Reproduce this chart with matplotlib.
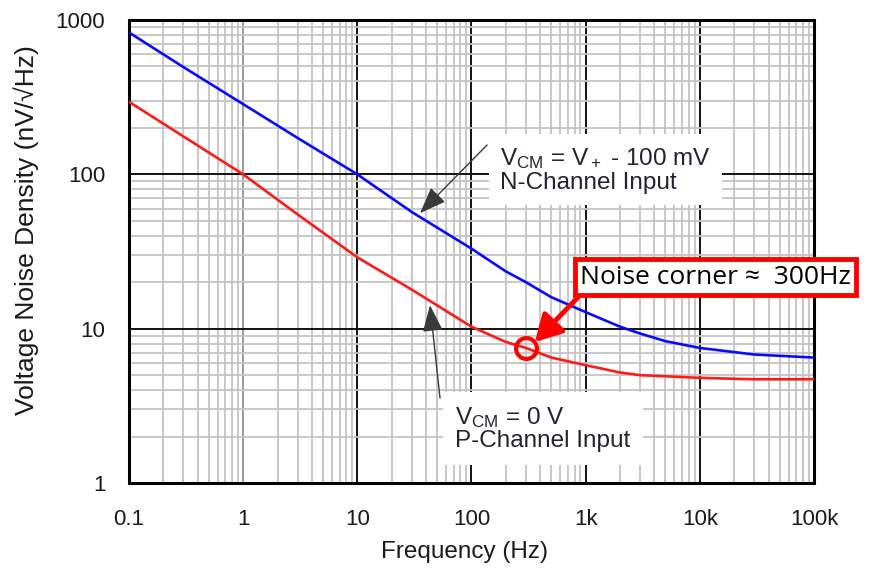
import matplotlib
matplotlib.use("Agg")
import matplotlib.pyplot as plt
from matplotlib.ticker import LogLocator, NullFormatter

# =========================
# DATA
# =========================
freq_n = [0.1, 0.3, 1, 3, 10, 30, 100, 200, 300, 500, 1000, 2000, 3000, 5000, 10000, 30000, 100000]
noise_n = [830, 495, 285, 172, 100, 57, 33, 23.5, 20, 16, 12.8, 10.3, 9.3, 8.3, 7.5, 6.8, 6.5]

freq_p = [0.1, 0.3, 1, 3, 10, 30, 100, 200, 300, 500, 1000, 2000, 3000, 10000, 30000, 100000]
noise_p = [295, 176, 100, 55, 29, 17.9, 10.3, 8.2, 7.5, 6.5, 5.8, 5.2, 5.0, 4.8, 4.7, 4.7]

corner_freq = 300
corner_noise = 7.5

x_ticks = [0.1, 1, 10, 100, 1000, 10000, 100000]
x_labels = ["0.1", "1", "10", "100", "1k", "10k", "100k"]
y_ticks = [1, 10, 100, 1000]
y_labels = ["1", "10", "100", "1000"]

# =========================
# STYLE
# =========================
plt.rcParams["font.family"] = ["Liberation Sans", "DejaVu Sans"]
plt.rcParams["mathtext.fontset"] = "custom"
plt.rcParams["mathtext.rm"] = "Liberation Sans"
plt.rcParams["mathtext.it"] = "Liberation Sans:italic"
plt.rcParams["mathtext.bf"] = "Liberation Sans:bold"

fig = plt.figure(figsize=(8.69, 5.69), dpi=100)
ax = fig.add_axes([0.1484, 0.1511, 0.7883, 0.8138])

ax.set_xscale("log")
ax.set_yscale("log")
ax.set_xlim(0.1, 100000)
ax.set_ylim(1, 1000)

# grid
ax.xaxis.set_minor_locator(LogLocator(base=10, subs=range(2, 10), numticks=20))
ax.yaxis.set_minor_locator(LogLocator(base=10, subs=range(2, 10), numticks=20))
ax.xaxis.set_minor_formatter(NullFormatter())
ax.yaxis.set_minor_formatter(NullFormatter())
ax.grid(which="minor", color="#c4c4c4", linewidth=1.3)
ax.grid(which="major", color="#111111", linewidth=1.4)
ax.set_axisbelow(True)

ax.set_xticks(x_ticks)
ax.set_xticklabels(x_labels)
ax.set_yticks(y_ticks)
ax.set_yticklabels(y_labels)
ax.tick_params(which="both", length=0, labelsize=16, colors="#1a1a1a")
ax.tick_params(axis="x", pad=19)
ax.tick_params(axis="y", pad=17)

# the 1 Hz line is lighter on the original
for line, loc in zip(ax.get_xgridlines(), x_ticks):
    if loc == 1:
        line.set_color("#9a9a9a")

for s in ax.spines.values():
    s.set_linewidth(2.2)
    s.set_color("black")

# =========================
# CURVES
# =========================
ax.plot(freq_n, noise_n, color="#0a0aff", linewidth=1.9, zorder=3)
ax.plot(freq_p, noise_p, color="#ff1a1a", linewidth=1.9, zorder=3)

ax.set_xlabel("Frequency (Hz)", fontsize=17.5, color="#1a1a1a")
ax.xaxis.set_label_coords(0.49, -0.125)
ax.set_ylabel("Voltage Noise Density (nV/\u221aHz)", fontsize=19, color="#1a1a1a")
ax.yaxis.set_label_coords(-0.131, 0.546)

# =========================
# ANNOTATIONS
# =========================
ax.text(177, 107, "V$_{\\rm CM}$ = V$_+$ - 100 mV\nN-Channel Input",
        fontsize=17.5, color="#222233", va="center", ha="left", linespacing=1.05,
        bbox=dict(facecolor="white", edgecolor="none", pad=8), zorder=4)
ax.annotate("", xy=(35.4, 56), xytext=(137, 155),
            arrowprops=dict(arrowstyle="-|>,head_length=1.1,head_width=0.42",
                            color="#3a3a3a", lw=1.0, shrinkA=0, shrinkB=0,
                            mutation_scale=15),
            zorder=5)

ax.text(71.6, 2.25, "V$_{\\rm CM}$ = 0 V\nP-Channel Input",
        fontsize=17.5, color="#222233", va="center", ha="left", linespacing=1.0,
        bbox=dict(facecolor="white", edgecolor="none", pad=9), zorder=4)
ax.annotate("", xy=(43.3, 14.2), xytext=(53, 3.55),
            arrowprops=dict(arrowstyle="-|>,head_length=1.1,head_width=0.42",
                            color="#3a3a3a", lw=1.0, shrinkA=0, shrinkB=0,
                            mutation_scale=15),
            zorder=5)

# noise corner callout
ax.plot([corner_freq], [corner_noise], marker="o", markersize=15,
        markerfacecolor="none", markeredgecolor="#ff0000", markeredgewidth=3,
        zorder=6, clip_on=False)
ax.annotate("", xy=(360, 8.2), xytext=(857, 16.0),
            arrowprops=dict(arrowstyle="-|>,head_length=0.8,head_width=0.45",
                            color="#ff0000", lw=3.5, shrinkA=0, shrinkB=0,
                            mutation_scale=20),
            zorder=6, annotation_clip=False)
ax.text(13800, 21.6, "Noise corner \u2248  300Hz", fontsize=19,
        family=["Open Sans", "DejaVu Sans"], color="black",
        ha="center", va="center", clip_on=False, zorder=7,
        bbox=dict(facecolor="white", edgecolor="#ff0000", linewidth=3.5,
                  boxstyle="square,pad=0.2"))

fig.savefig("out.png", dpi=100)
